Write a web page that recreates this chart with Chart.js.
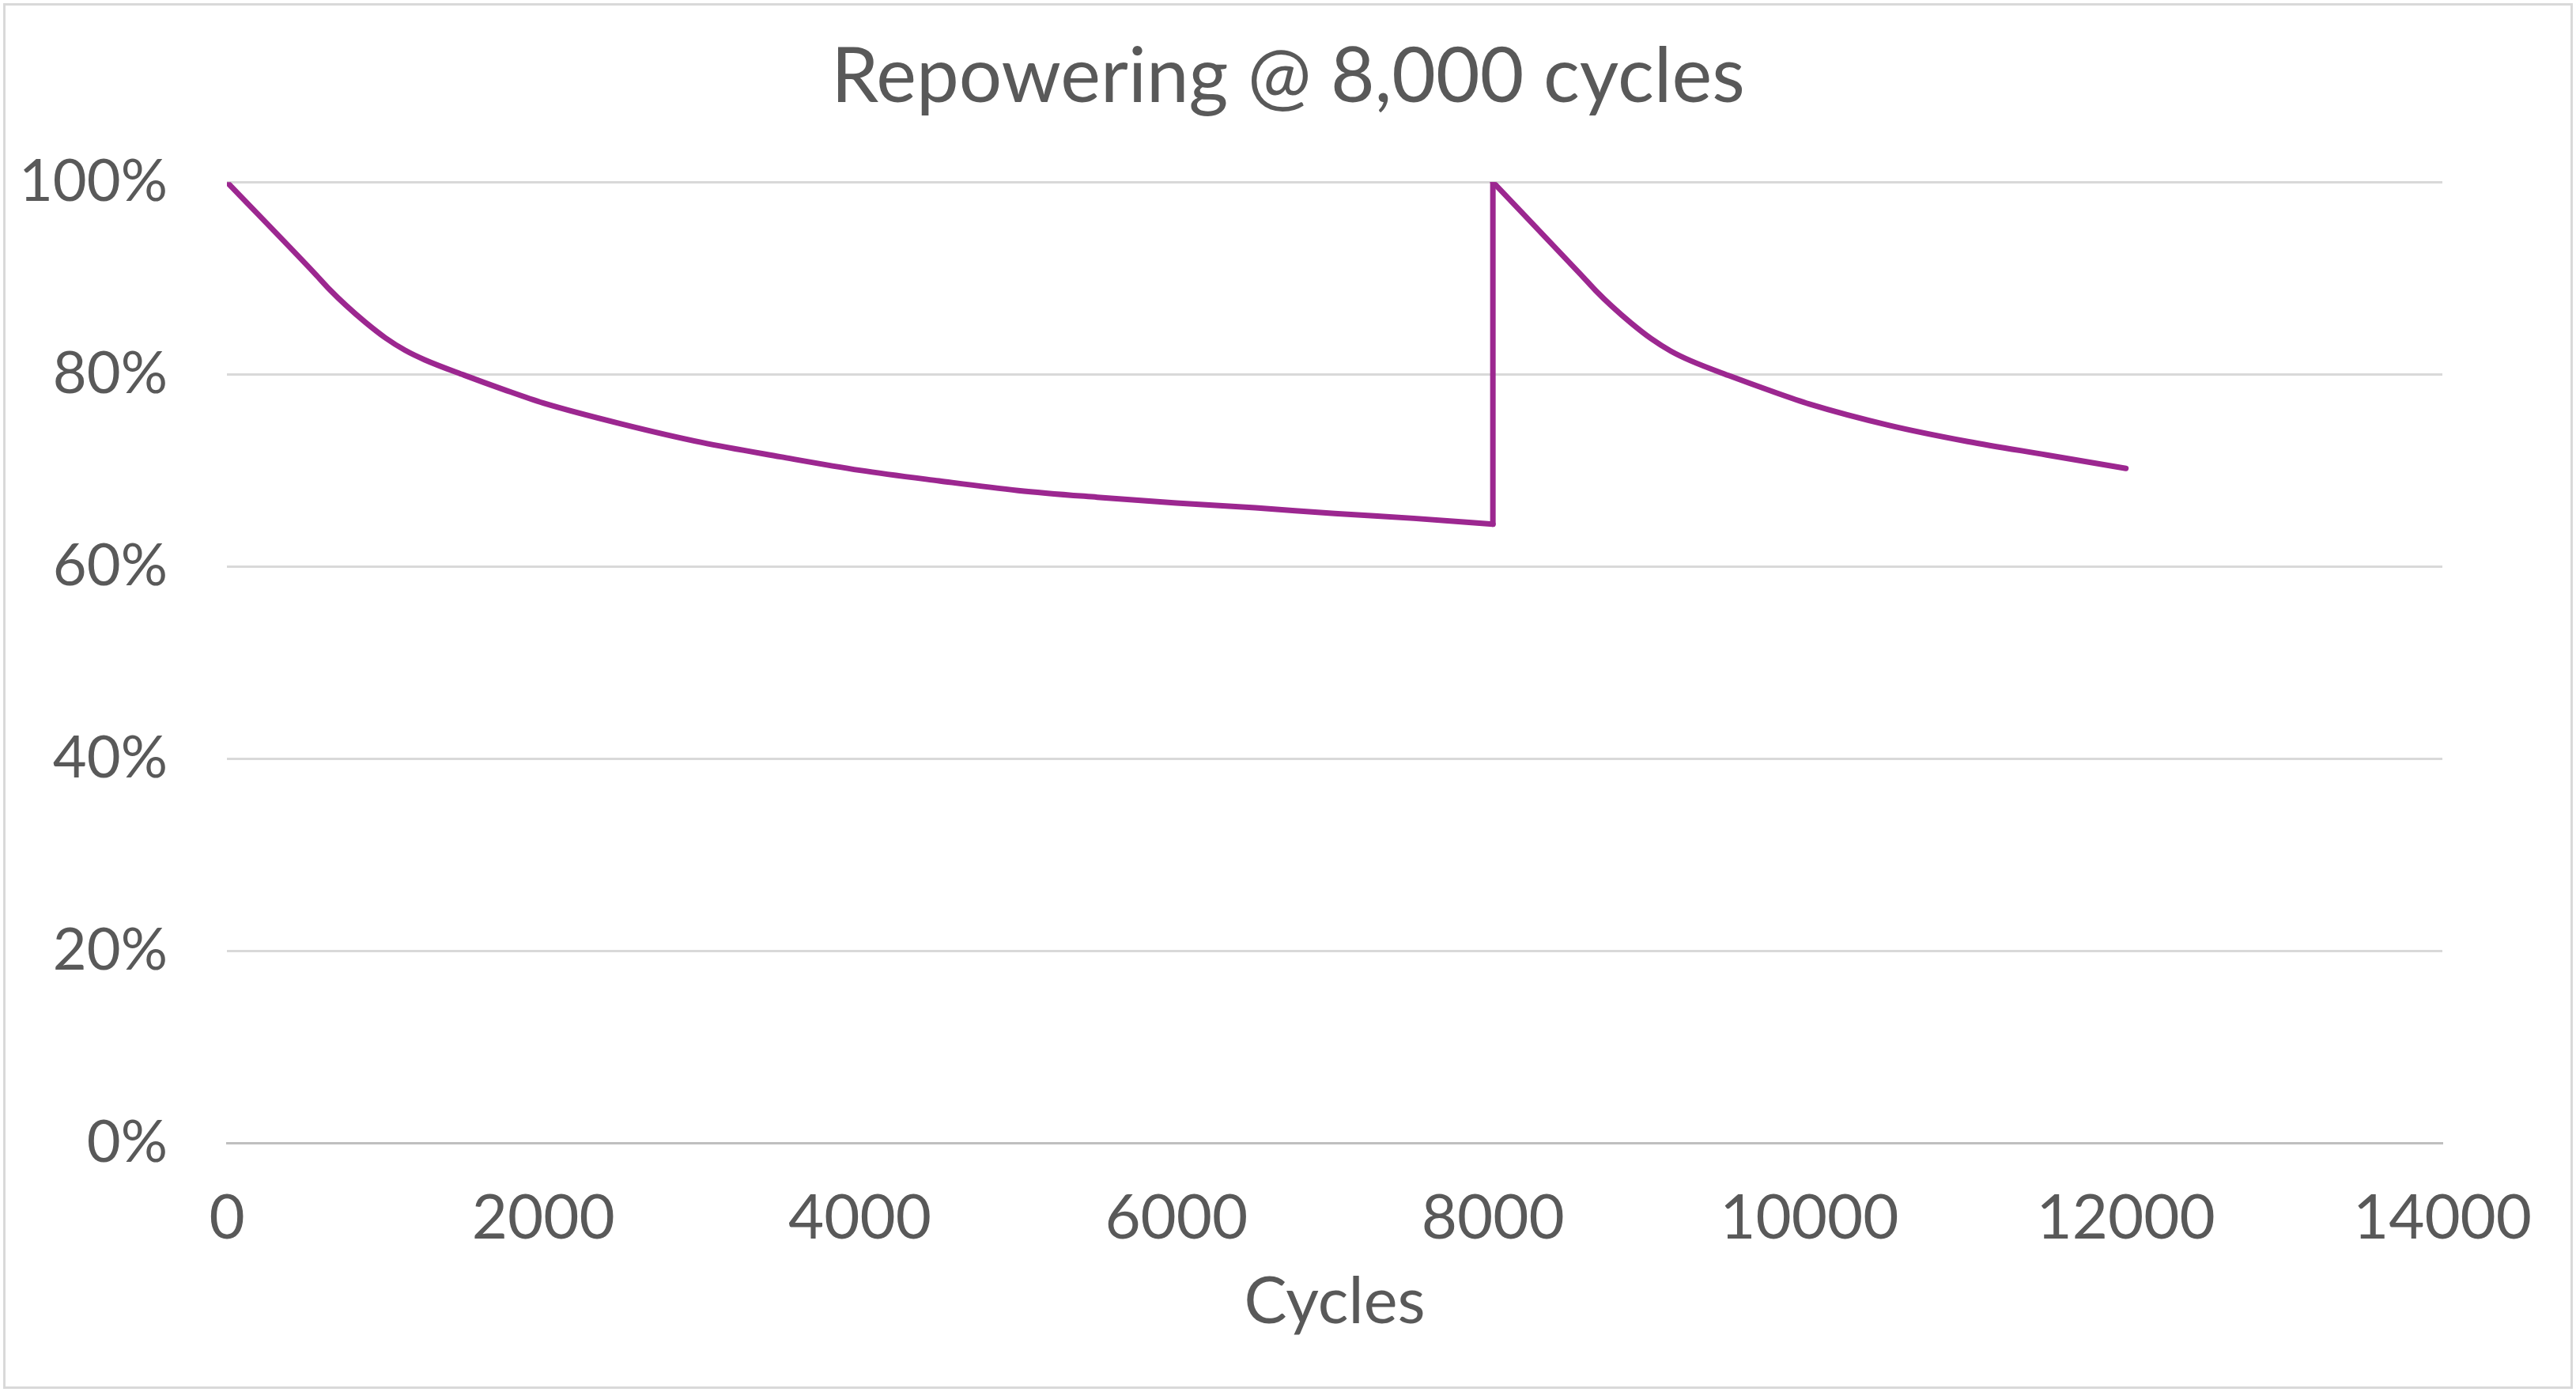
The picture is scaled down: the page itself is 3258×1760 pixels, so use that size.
<!DOCTYPE html>
<html>
<head>
<meta charset="utf-8">
<script src="https://cdn.jsdelivr.net/npm/chart.js@4.4.1/dist/chart.umd.min.js"></script>
<style>
  html, body { margin: 0; padding: 0; background: #ffffff; }
  #wrap { position: absolute; left: 0; top: 0; width: 3258px; height: 1760px; }
  #frame { position: absolute; left: 4px; top: 4px; width: 3250px; height: 1752px;
           box-sizing: border-box; border: 3px solid #d9d9d9; pointer-events: none; }
</style>
</head>
<body>
<div id="wrap">
  <canvas id="chart" width="3258" height="1760"></canvas>
  <div id="frame"></div>
</div>
<script>
// first battery life, up to repowering
const cyclesFirst = [0, 560, 650, 750, 875, 1000, 1125, 1250, 1500, 1750, 2000, 2500, 3000, 3500, 4000, 4500, 5000, 5500, 6000, 6500, 7000, 7500, 8000];
const healthFirst = [100, 90.4, 88.8, 87.2, 85.4, 83.8, 82.5, 81.5, 79.9, 78.4, 77.0, 74.8, 72.9, 71.4, 70.0, 68.9, 67.9, 67.2, 66.6, 66.1, 65.5, 65.0, 64.4];

// repowering jump at 8,000 cycles
const cyclesJump = [8000, 8000];
const healthJump = [64.4, 100];

// second battery life after repowering
const cyclesSecond = [8000, 8560, 8650, 8750, 8875, 9000, 9125, 9250, 9500, 9750, 10000, 10500, 11000, 11500, 12000];
const healthSecond = [100, 90.3, 88.7, 87.1, 85.3, 83.7, 82.4, 81.4, 79.8, 78.3, 76.9, 74.7, 73.0, 71.6, 70.2];

const yTicks = [0, 20, 40, 60, 80, 100];
const xTicks = [0, 2000, 4000, 6000, 8000, 10000, 12000, 14000];

const lineColor = '#9c2790';
const textColor = '#595959';
const fontFamily = "Lato, 'Open Sans', sans-serif";

function toPoints(xs, ys) {
    return xs.map((x, i) => ({ x: x, y: ys[i] }));
}

function lineSet(xs, ys, smooth) {
    return {
        data: toPoints(xs, ys),
        borderColor: lineColor,
        backgroundColor: lineColor,
        borderWidth: 7,
        borderCapStyle: 'round',
        borderJoinStyle: 'round',
        pointRadius: 0,
        showLine: true,
        fill: false,
        cubicInterpolationMode: smooth ? 'monotone' : 'default',
        tension: 0
    };
}

new Chart(document.getElementById('chart'), {
    type: 'scatter',
    data: {
        datasets: [
            lineSet(cyclesFirst, healthFirst, true),
            lineSet(cyclesJump, healthJump, false),
            lineSet(cyclesSecond, healthSecond, true)
        ]
    },
    options: {
        responsive: false,
        animation: false,
        devicePixelRatio: 1,
        layout: {
            padding: { left: 0, right: 0, top: 0, bottom: 65 }
        },
        scales: {
            x: {
                type: 'linear',
                min: 0,
                max: 14000,
                afterBuildTicks: (scale) => { scale.ticks = xTicks.map(v => ({ value: v })); },
                afterFit: (scale) => { scale.height = 250; },
                grid: { display: false, drawTicks: false },
                border: { display: true, color: '#bfbfbf', width: 3 },
                ticks: {
                    color: textColor,
                    padding: 49,
                    maxRotation: 0,
                    font: { family: fontFamily, size: 78 },
                    callback: (value) => String(value)
                },
                title: {
                    display: true,
                    text: 'Cycles',
                    color: textColor,
                    padding: { top: 20, bottom: 0 },
                    font: { family: fontFamily, size: 81 }
                }
            },
            y: {
                min: 0,
                max: 100,
                afterBuildTicks: (scale) => { scale.ticks = yTicks.map(v => ({ value: v })); },
                afterFit: (scale) => { scale.width = 287; },
                grid: {
                    drawTicks: false,
                    lineWidth: 3,
                    color: (ctx) => ctx.tick && ctx.tick.value === 0 ? '#bfbfbf' : '#d9d9d9'
                },
                border: { display: false },
                ticks: {
                    color: textColor,
                    padding: 75,
                    font: { family: fontFamily, size: 74 },
                    callback: (value) => value + '%'
                }
            },
            // empty right-hand gutter so the plot ends at 14000 like the original
            gutter: {
                type: 'linear',
                position: 'right',
                afterFit: (scale) => { scale.width = 169; },
                grid: { display: false, drawTicks: false },
                border: { display: false },
                ticks: { display: false }
            }
        },
        plugins: {
            legend: { display: false },
            tooltip: { enabled: false },
            title: {
                display: true,
                text: 'Repowering @ 8,000 cycles',
                color: textColor,
                padding: { top: 40, bottom: 75 },
                font: { family: fontFamily, size: 96, weight: 'normal' }
            }
        }
    }
});
</script>
</body>
</html>
